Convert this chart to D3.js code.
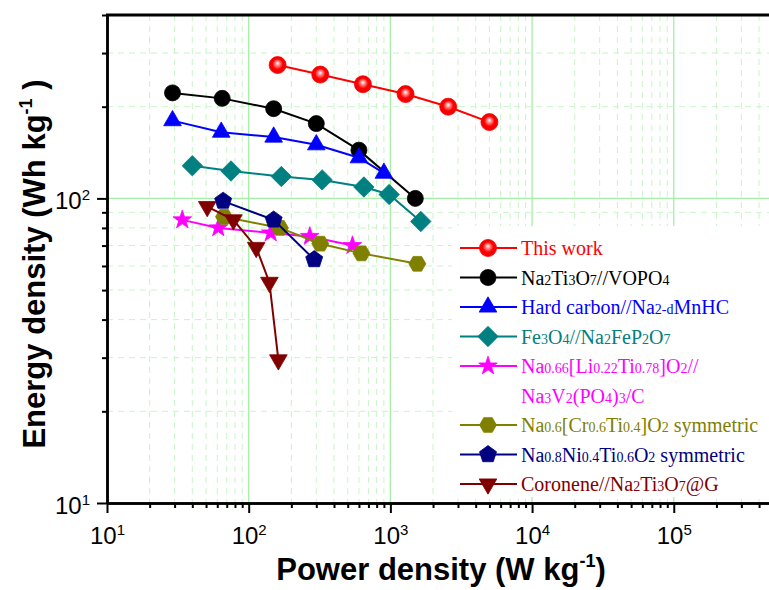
<!DOCTYPE html>
<html>
<meta charset="utf-8">
<script src="https://cdn.jsdelivr.net/npm/d3@7"></script>
<body style="margin:0;background:#fff">
<script>

var width = 769, height = 590;
var plot = {left: 107, right: 769, top: 15, bottom: 503};

// series values (power W/kg, energy Wh/kg)
var thisWorkP = [160, 320, 640, 1280, 2560, 5000];
var thisWorkE = [274, 255, 237, 220, 200, 178];
var vopoP = [29, 65, 150, 300, 600, 1500];
var vopoE = [222, 213, 197, 176, 144, 100];
var hardCarbonP = [29, 64, 150, 300, 600, 900];
var hardCarbonE = [180, 165, 159, 150, 136, 121];
var fe3o4P = [40, 75, 170, 330, 650, 980, 1640];
var fe3o4E = [128, 123, 118, 115, 109, 103, 84];
var naLiTiP = [34, 61, 143, 270, 540];
var naLiTiE = [85, 80, 77, 75, 70];
var naCrTiP = [67, 166, 320, 625, 1550];
var naCrTiE = [87, 80, 71, 66, 61];
var naNiTiP = [66, 150, 290];
var naNiTiE = [98, 85, 63];
var coroneneP = [51, 78, 113, 140, 162];
var coroneneE = [94, 85, 69, 53, 29.5];

// {..} marks subscript runs
var legendLabels = [
  ["This work"],
  ["Na{2}Ti{3}O{7}//VOPO{4}"],
  ["Hard carbon//Na{2-d}MnHC"],
  ["Fe{3}O{4}//Na{2}FeP{2}O{7}"],
  ["Na{0.66}[Li{0.22}Ti{0.78}]O{2}//", "Na{3}V{2}(PO{4}){3}/C"],
  ["Na{0.6}[Cr{0.6}Ti{0.4}]O{2} symmetric"],
  ["Na{0.8}Ni{0.4}Ti{0.6}O{2} symmetric"],
  ["Coronene//Na{2}Ti{3}O{7}@G"]
];
var colors = ["#ff0000", "#000000", "#0000ff", "#008080", "#ff00ff", "#808000", "#000080", "#800000"];
var shapes = ["sphere", "circle", "triangle", "diamond", "star", "hexagon", "pentagon", "triangleDown"];

var xMajor = [10, 100, 1e3, 1e4, 1e5];
var yMajor = [10, 100];

var series = [
  [thisWorkP, thisWorkE], [vopoP, vopoE], [hardCarbonP, hardCarbonE], [fe3o4P, fe3o4E],
  [naLiTiP, naLiTiE], [naCrTiP, naCrTiE], [naNiTiP, naNiTiE], [coroneneP, coroneneE]
].map(function(s, i) {
  return {
    label: legendLabels[i], color: colors[i], shape: shapes[i],
    points: s[0].map(function(p, j) { return {p: p, e: s[1][j]}; })
  };
});

var x = d3.scaleLog().domain([10, 4.7e5]).range([plot.left, plot.right]);
var y = d3.scaleLog().domain([10, 400]).range([plot.bottom, plot.top]);

function minorTicks(lo, hi) {
  var out = [];
  for (var dec = lo; dec < hi; dec *= 10) {
    for (var k = 2; k <= 9; k++) if (k * dec <= hi) out.push(k * dec);
  }
  return out;
}
var xMinor = minorTicks(10, 4.7e5);
var yMinor = minorTicks(10, 400);

var svg = d3.select("body").append("svg")
  .attr("width", width).attr("height", height)
  .style("font-family", "Arial, 'Liberation Sans', sans-serif");

var defs = svg.append("defs");
var grad = defs.append("radialGradient").attr("id", "sphere")
  .attr("cx", "50%").attr("cy", "50%").attr("r", "55%").attr("fx", "50%").attr("fy", "38%");
grad.append("stop").attr("offset", "0%").attr("stop-color", "#ffffff");
grad.append("stop").attr("offset", "22%").attr("stop-color", "#ff9090");
grad.append("stop").attr("offset", "55%").attr("stop-color", "#ff0000");
grad.append("stop").attr("offset", "100%").attr("stop-color", "#e80000");

// grid
var grid = svg.append("g");
grid.selectAll(".vminor").data(xMinor).enter().append("line")
  .attr("x1", d => x(d)).attr("x2", d => x(d)).attr("y1", plot.top).attr("y2", plot.bottom)
  .attr("stroke", "#c8f5c8").attr("stroke-width", 1).attr("stroke-dasharray", "6,5");
grid.selectAll(".hminor").data(yMinor).enter().append("line")
  .attr("x1", plot.left).attr("x2", plot.right).attr("y1", d => y(d)).attr("y2", d => y(d))
  .attr("stroke", "#c8f5c8").attr("stroke-width", 1).attr("stroke-dasharray", "6,5");
grid.selectAll(".vmajor").data(xMajor.slice(1)).enter().append("line")
  .attr("x1", d => x(d)).attr("x2", d => x(d)).attr("y1", plot.top).attr("y2", plot.bottom)
  .attr("stroke", "#a6eea6").attr("stroke-width", 1.3);
grid.selectAll(".hmajor").data(yMajor.slice(1)).enter().append("line")
  .attr("x1", plot.left).attr("x2", plot.right).attr("y1", d => y(d)).attr("y2", d => y(d))
  .attr("stroke", "#a6eea6").attr("stroke-width", 1.3);

function shapePath(shape, r) {
  function poly(n, rad, rot) {
    return d3.range(n).map(function(i) {
      var a = rot + i * 2 * Math.PI / n;
      return [rad * Math.cos(a), rad * Math.sin(a)];
    });
  }
  var pts;
  if (shape === "triangle") pts = poly(3, r * 1.2, -Math.PI / 2);
  else if (shape === "triangleDown") pts = poly(3, r * 1.2, Math.PI / 2);
  else if (shape === "diamond") pts = poly(4, r * 1.2, -Math.PI / 2);
  else if (shape === "pentagon") pts = poly(5, r * 1.05, -Math.PI / 2);
  else if (shape === "hexagon") pts = poly(6, r, 0);
  else if (shape === "star") {
    pts = d3.range(10).map(function(i) {
      var a = -Math.PI / 2 + i * Math.PI / 5, rad = i % 2 ? r * 0.45 : r * 1.15;
      return [rad * Math.cos(a), rad * Math.sin(a)];
    });
  }
  return "M" + pts.map(p => p[0].toFixed(2) + "," + p[1].toFixed(2)).join("L") + "Z";
}

function drawMarker(g, s, cx, cy) {
  if (s.shape === "sphere" || s.shape === "circle") {
    g.append("circle").attr("cx", cx).attr("cy", cy).attr("r", s.shape === "sphere" ? 8.5 : 8)
      .attr("fill", s.shape === "sphere" ? "url(#sphere)" : s.color)
      .attr("stroke", s.color).attr("stroke-width", 0.8);
  } else {
    g.append("path").attr("d", shapePath(s.shape, 8.5))
      .attr("transform", "translate(" + cx + "," + cy + ")")
      .attr("fill", s.color).attr("stroke", s.color).attr("stroke-width", 0.8);
  }
}

var line = d3.line().x(d => x(d.p)).y(d => y(d.e));
var marks = svg.append("g");
series.forEach(function(s) {
  var g = marks.append("g");
  g.append("path").datum(s.points).attr("d", line)
    .attr("fill", "none").attr("stroke", s.color).attr("stroke-width", 2);
  s.points.forEach(function(d) { drawMarker(g, s, x(d.p), y(d.e)); });
});

// legend
var legend = svg.append("g");
legend.append("rect").attr("x", 452).attr("y", 226).attr("width", 317).attr("height", 271).attr("fill", "#fff");
var rowY = d3.scaleLinear().domain([0, 8]).range([248, 484]);
var slot = 0;
series.forEach(function(s) {
  var cy = rowY(slot);
  legend.append("line").attr("x1", 460).attr("x2", 517).attr("y1", cy).attr("y2", cy)
    .attr("stroke", s.color).attr("stroke-width", 2);
  drawMarker(legend, s, 488, cy);
  s.label.forEach(function(txt) {
    var t = legend.append("text").attr("x", 521).attr("y", rowY(slot) + 7)
      .attr("fill", s.color).style("font-family", "'Liberation Serif', 'Times New Roman', serif")
      .style("font-size", "20px");
    txt.split(/(\{[^}]*\})/).forEach(function(part) {
      if (!part) return;
      if (part[0] === "{") t.append("tspan").style("font-size", "14px").text(part.slice(1, -1));
      else t.append("tspan").text(part);
    });
    slot++;
  });
});

// axes
function supLabels(sel) {
  sel.selectAll(".tick text").each(function(d) {
    var t = d3.select(this);
    t.text(null);
    t.append("tspan").text("10");
    t.append("tspan").attr("dy", "-9").style("font-size", "15px").text(Math.round(Math.log10(d)));
  }).style("font-size", "24px").attr("fill", "#000");
}

var xMinorAxis = svg.append("g").attr("transform", "translate(0," + plot.bottom + ")")
  .call(d3.axisBottom(x).tickValues(xMinor).tickSize(5).tickSizeOuter(0).tickFormat(""));
var xAxis = svg.append("g").attr("transform", "translate(0," + plot.bottom + ")")
  .call(d3.axisBottom(x).tickValues(xMajor).tickSize(10).tickPadding(14).tickSizeOuter(0));
xAxis.call(supLabels);
var yMinorAxis = svg.append("g").attr("transform", "translate(" + plot.left + ",0)")
  .call(d3.axisLeft(y).tickValues(yMinor).tickSize(5).tickSizeOuter(0).tickFormat(""));
var yAxis = svg.append("g").attr("transform", "translate(" + plot.left + ",0)")
  .call(d3.axisLeft(y).tickValues(yMajor).tickSize(10).tickPadding(7).tickSizeOuter(0));
yAxis.call(supLabels);
yAxis.selectAll(".tick text").attr("dy", "0.42em");

[xMinorAxis, xAxis, yMinorAxis, yAxis].forEach(function(a) {
  a.selectAll("line").attr("stroke", "#000").attr("stroke-width", 2);
  a.select(".domain").attr("stroke", "#000").attr("stroke-width", 2.5);
});
svg.append("line").attr("x1", plot.left - 1).attr("x2", plot.right).attr("y1", plot.top).attr("y2", plot.top)
  .attr("stroke", "#000").attr("stroke-width", 3);

// titles
var xt = svg.append("text").attr("x", 441).attr("y", 580).attr("text-anchor", "middle")
  .style("font-size", "31px").style("font-weight", "bold");
xt.append("tspan").text("Power density (W kg");
xt.append("tspan").attr("dy", "-13").style("font-size", "18px").text("-1");
xt.append("tspan").attr("dy", "13").text(")");

var yt = svg.append("text").attr("transform", "translate(45,264) rotate(-90)").attr("text-anchor", "middle")
  .style("font-size", "31px").style("font-weight", "bold");
yt.append("tspan").text("Energy density (Wh kg");
yt.append("tspan").attr("dy", "-13").style("font-size", "18px").text("-1");
yt.append("tspan").attr("dy", "13").text(" )");

</script>
</body>
</html>
